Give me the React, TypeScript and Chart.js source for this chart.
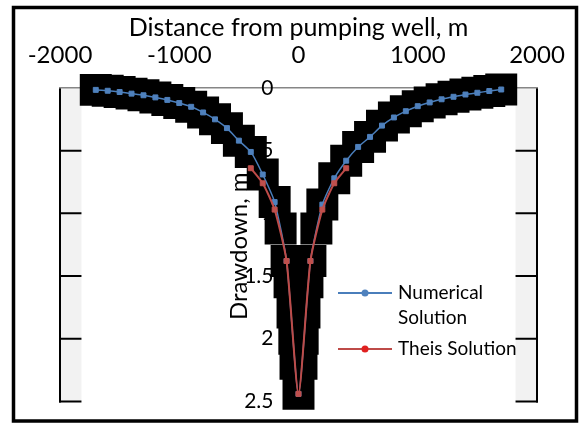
import React, { useEffect, useRef } from "react";
import { Chart, registerables } from "chart.js";

Chart.register(...registerables);

const xTickValues = [-2000, -1000, 0, 1000, 2000];
const yTickValues = [0, 0.5, 1, 1.5, 2, 2.5];
const whiteBoxX = [-1820, 1820];

const numericalX = [-1700, -1600, -1500, -1400, -1300, -1200, -1100, -1000, -900, -800, -700, -600, -500, -400, -300, -200, -100, 0, 100, 200, 300, 400, 500, 600, 700, 800, 900, 1000, 1100, 1200, 1300, 1400, 1500, 1600, 1700];
const numericalY = [0.015, 0.022, 0.032, 0.045, 0.058, 0.075, 0.095, 0.12, 0.15, 0.195, 0.25, 0.32, 0.42, 0.51, 0.69, 0.91, 1.38, 2.44, 1.38, 0.93, 0.72, 0.58, 0.47, 0.39, 0.3, 0.235, 0.185, 0.145, 0.115, 0.09, 0.07, 0.052, 0.038, 0.024, 0.012];

const theisX = [-400, -300, -200, -100, 0, 100, 200, 300, 400];
const theisY = [0.64, 0.76, 0.97, 1.38, 2.44, 1.38, 0.97, 0.76, 0.64];

const bandX = [-1700, -1600, -1500, -1400, -1300, -1200, -1100, -1000, -900, -800, -700, -600, -500, -400, -300, -200, -150, -100, -75, -50, -35, -25, 0, 25, 35, 50, 75, 100, 150, 200, 300, 400, 500, 600, 700, 800, 900, 1000, 1100, 1200, 1300, 1400, 1500, 1600, 1700];
const bandY = [0.015, 0.022, 0.032, 0.045, 0.058, 0.075, 0.095, 0.12, 0.15, 0.195, 0.25, 0.32, 0.42, 0.51, 0.69, 0.91, 1.12, 1.38, 1.55, 1.79, 2.0, 2.2, 2.44, 2.2, 2.0, 1.79, 1.55, 1.38, 1.12, 0.93, 0.72, 0.58, 0.47, 0.39, 0.3, 0.235, 0.185, 0.145, 0.115, 0.09, 0.07, 0.052, 0.038, 0.024, 0.012];

const xTitle = "Distance from pumping well, m";
const yTitle = "Drawdown, m";
const seriesNames = ["Numerical", "Solution", "Theis Solution"];

const FONT = "Lato";
const BLUE_LINE = "#4A7EBB";
const BLUE_MARK = "#4F81BD";
const RED_LINE = "#BE4B48";
const RED_MARK = "#C0504D";

const pts = (xs: number[], ys: number[]) => xs.map((x, i) => ({ x, y: ys[i] }));

const decorPlugin = {
  id: "decor",
  beforeDraw(chart: any) {
    const { ctx, chartArea: a, scales } = chart;
    const xs = scales.x;
    const ys = scales.y;
    ctx.save();
    ctx.fillStyle = "#ffffff";
    ctx.fillRect(0, 0, chart.width, chart.height);
    ctx.strokeStyle = "#000";
    ctx.lineWidth = 3.5;
    ctx.strokeRect(13.5, 7.5, 563, 413.5);
    ctx.fillStyle = "#F2F2F2";
    ctx.fillRect(a.left, a.top, a.right - a.left, a.bottom - a.top);
    ctx.strokeStyle = "#000";
    ctx.lineWidth = 2;
    for (const v of yTickValues) {
      if (v === 0) continue;
      const py = ys.getPixelForValue(v);
      ctx.beginPath();
      ctx.moveTo(a.left - 1, py);
      ctx.lineTo(a.right + 1, py);
      ctx.stroke();
    }
    for (const v of [xTickValues[0], xTickValues[xTickValues.length - 1]]) {
      const px = xs.getPixelForValue(v);
      ctx.beginPath();
      ctx.moveTo(px, a.top);
      ctx.lineTo(px, a.bottom + 1);
      ctx.stroke();
    }
    const l = xs.getPixelForValue(whiteBoxX[0]);
    const r = xs.getPixelForValue(whiteBoxX[1]);
    ctx.fillStyle = "#ffffff";
    ctx.fillRect(l, a.top, r - l, a.bottom - a.top + 3);
    ctx.restore();
  },
  beforeDatasetsDraw(chart: any) {
    const { ctx, chartArea: a, scales } = chart;
    const xs = scales.x;
    const ys = scales.y;
    const axisX = xs.getPixelForValue(0);
    ctx.save();
    // y tick labels (beneath the data marks)
    ctx.font = `21px ${FONT}`;
    ctx.fillStyle = "#000";
    ctx.textAlign = "right";
    ctx.textBaseline = "middle";
    for (const t of ys.ticks) {
      ctx.fillText(String(t.value), axisX - 25, ys.getPixelForValue(t.value));
    }
    // y axis title
    ctx.translate(axisX - 52, a.top + (a.bottom - a.top) * 0.505);
    ctx.rotate(-Math.PI / 2);
    ctx.font = `24px ${FONT}`;
    ctx.textAlign = "center";
    ctx.textBaseline = "alphabetic";
    ctx.fillText(yTitle, 0, 0);
    ctx.restore();
  },
  afterDraw(chart: any) {
    const { ctx } = chart;
    ctx.save();
    const items = [
      { y: 293, color: BLUE_LINE, mark: BLUE_MARK, lines: [seriesNames[0], seriesNames[1]] },
      { y: 349, color: RED_LINE, mark: "#E02020", lines: [seriesNames[2]] },
    ];
    ctx.font = `19px ${FONT}`;
    ctx.textBaseline = "middle";
    ctx.textAlign = "left";
    for (const it of items) {
      ctx.strokeStyle = it.color;
      ctx.lineWidth = 2;
      ctx.beginPath();
      ctx.moveTo(338, it.y);
      ctx.lineTo(392, it.y);
      ctx.stroke();
      ctx.fillStyle = it.mark;
      ctx.beginPath();
      ctx.arc(365, it.y, 3.5, 0, Math.PI * 2);
      ctx.fill();
      ctx.fillStyle = "#000";
      it.lines.forEach((t, i) => ctx.fillText(t, 398, it.y + i * 25));
    }
    ctx.restore();
  },
};

export default function App() {
  const ref = useRef<HTMLCanvasElement>(null);
  useEffect(() => {
    const chart = new Chart(ref.current as HTMLCanvasElement, {
      type: "line",
      data: {
        datasets: [
          {
            label: "Theis Solution",
            data: pts(theisX, theisY),
            borderColor: RED_LINE,
            borderWidth: 2,
            pointStyle: "rect",
            pointRadius: 3.5,
            pointBackgroundColor: RED_MARK,
            pointBorderColor: RED_MARK,
            pointBorderWidth: 1,
            tension: 0.2,
            order: 1,
            clip: false,
          } as any,
          {
            label: "Numerical Solution",
            data: pts(numericalX, numericalY),
            borderColor: BLUE_LINE,
            borderWidth: 1.5,
            pointStyle: "rect",
            pointRadius: 3.5,
            pointBackgroundColor: BLUE_MARK,
            pointBorderColor: BLUE_MARK,
            pointBorderWidth: 1,
            tension: 0.2,
            order: 2,
            clip: false,
          } as any,
          {
            label: "band",
            data: pts(bandX, bandY),
            showLine: false,
            pointStyle: "rect",
            pointRadius: 22.6,
            pointBackgroundColor: "#000",
            pointBorderWidth: 0,
            order: 3,
            clip: false,
          } as any,
        ],
      },
      options: {
        responsive: false,
        animation: false,
        layout: { padding: { left: 60, right: 42, top: 0, bottom: 21 } },
        plugins: { legend: { display: false }, tooltip: { enabled: false } },
        scales: {
          x: {
            type: "linear",
            position: "top",
            min: -2000,
            max: 2000,
            afterFit: (s: any) => {
              s.height = 88;
              s.paddingLeft = 0;
              s.paddingRight = 0;
            },
            afterBuildTicks: (s: any) => {
              s.ticks = xTickValues.map((v) => ({ value: v }));
            },
            grid: { display: false, drawTicks: false },
            border: { display: true, color: "#868686", width: 1.5 },
            ticks: {
              color: "#000",
              font: { family: FONT, size: 24 },
              padding: 18,
              maxRotation: 0,
              callback: (v: any) => String(v),
            },
            title: {
              display: true,
              text: xTitle,
              color: "#000",
              font: { family: FONT, size: 25 },
              padding: { top: 12.5, bottom: 0 },
            },
          },
          y: {
            type: "linear",
            position: { x: 0 } as any,
            reverse: true,
            min: 0,
            max: 2.5,
            afterFit: (s: any) => {
              s.paddingTop = 0;
              s.paddingBottom = 0;
            },
            afterBuildTicks: (s: any) => {
              s.ticks = yTickValues.map((v) => ({ value: v }));
            },
            grid: { display: false, drawTicks: false },
            border: { display: false },
            ticks: { display: false },
          },
        },
      } as any,
      plugins: [decorPlugin],
    });
    return () => chart.destroy();
  }, []);
  return (
    <div style={{ position: "absolute", left: 0, top: 0, width: 579, height: 424 }}>
      <canvas ref={ref} width={579} height={424} style={{ display: "block" }} />
    </div>
  );
}
